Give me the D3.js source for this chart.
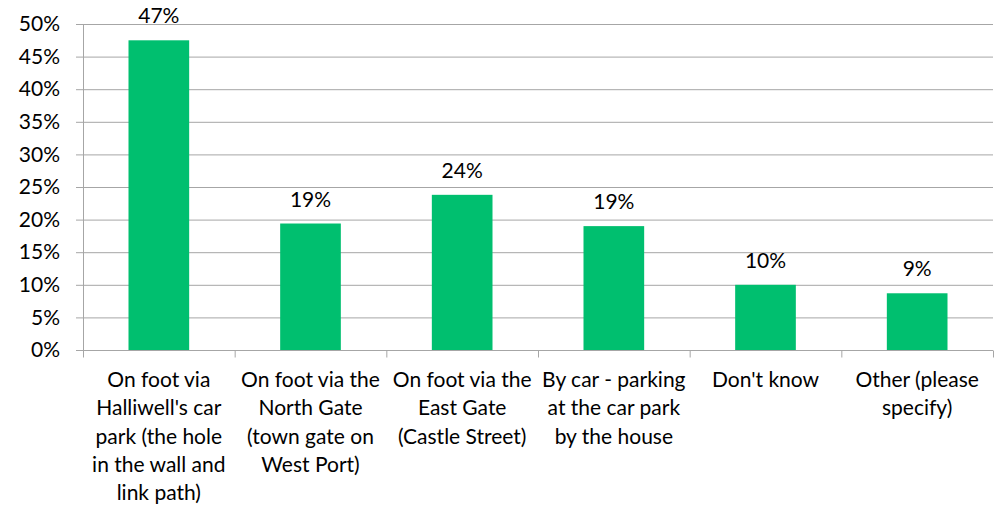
<!DOCTYPE html>
<html><head><meta charset="utf-8">
<script src="https://cdn.jsdelivr.net/npm/d3@7"></script>
<style>body{margin:0;background:#fff;} text{font-family:Lato, "Open Sans", sans-serif;fill:#000;}</style>
</head><body><svg id="c" width="999" height="505"></svg>
<script>
const categories = [
  ["On foot via","Halliwell's car","park (the hole","in the wall and","link path)"],
  ["On foot via the","North Gate","(town gate on","West Port)"],
  ["On foot via the","East Gate","(Castle Street)"],
  ["By car - parking","at the car park","by the house"],
  ["Don't know"],
  ["Other (please","specify)"]
];
const values = [47.5, 19.4, 23.8, 19.0, 10.0, 8.7];
const labels = ["47%","19%","24%","19%","10%","9%"];
const yTicks = [0,5,10,15,20,25,30,35,40,45,50];

const svg = d3.select("#c");
const m = {left:83, right:993, top:24, bottom:350};
const x = d3.scaleBand().domain(d3.range(values.length)).range([m.left, m.right]).paddingInner(0.6).paddingOuter(0.3);
const xb = d3.scaleBand().domain(d3.range(values.length)).range([m.left, m.right]);
const y = d3.scaleLinear().domain([0,50]).range([m.bottom, m.top]);
const grey = "#a6a6a6";
const fs = 21;

const ya = svg.append("g").attr("transform",`translate(${m.left},0)`)
  .call(d3.axisLeft(y).tickValues(yTicks).tickFormat(d=>d+"%").tickSize(7).tickPadding(16));
ya.select(".domain").attr("stroke",grey);
ya.selectAll(".tick line").attr("stroke",grey);
ya.selectAll(".tick text").attr("font-size",fs).style("font-family","Lato, 'Open Sans', sans-serif");
svg.append("g").selectAll("line").data(yTicks.filter(d=>d>0)).join("line")
  .attr("x1",m.left).attr("x2",m.right).attr("y1",d=>y(d)+0.5).attr("y2",d=>y(d)+0.5)
  .attr("stroke",grey).attr("stroke-width",1);

svg.append("g").selectAll("rect").data(values).join("rect")
  .attr("x",(d,i)=>x(i)).attr("width",x.bandwidth())
  .attr("y",d=>y(d)).attr("height",d=>y(0)-y(d)).attr("fill","#00bf6f");

const xa = svg.append("g").attr("transform",`translate(0,${m.bottom+0.5})`);
xa.append("line").attr("x1",m.left).attr("x2",m.right).attr("stroke",grey);
xa.selectAll("line.t").data(d3.range(values.length+1)).join("line").attr("class","t")
  .attr("x1",i=>m.left+i*xb.step()+0.5).attr("x2",i=>m.left+i*xb.step()+0.5)
  .attr("y1",0).attr("y2",7).attr("stroke",grey);

svg.append("g").selectAll("text").data(categories).join("text")
  .attr("text-anchor","middle").attr("font-size",fs)
  .each(function(lines,i){
    d3.select(this).selectAll("tspan").data(lines).join("tspan")
      .attr("x",x(i)+x.bandwidth()/2).attr("y",(l,j)=>387+j*28.3).text(l=>l);
  });

svg.append("g").selectAll("text").data(values).join("text")
  .attr("text-anchor","middle").attr("font-size",fs)
  .attr("x",(d,i)=>x(i)+x.bandwidth()/2).attr("y",d=>y(d)-17).text((d,i)=>labels[i]);
</script></body></html>
